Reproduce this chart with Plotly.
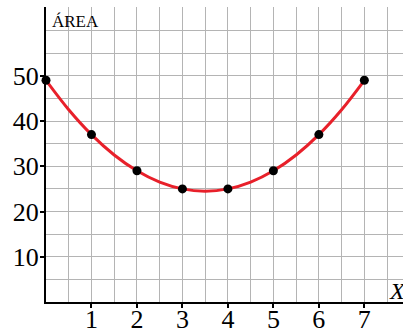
import plotly.graph_objects as go

# Pontos marcados (x inteiro -> área)
x_pontos = [0, 1, 2, 3, 4, 5, 6, 7]
area_pontos = [49, 37, 29, 25, 25, 29, 37, 49]

# Curva vermelha (a cada meia unidade)
x_curva = [0, 0.5, 1, 1.5, 2, 2.5, 3, 3.5, 4, 4.5, 5, 5.5, 6, 6.5, 7]
area_curva = [49, 42.5, 37, 32.5, 29, 26.5, 25, 24.5, 25, 26.5, 29, 32.5, 37, 42.5, 49]

x_ticks = [1, 2, 3, 4, 5, 6, 7]
y_ticks = [10, 20, 30, 40, 50]

SERIF = 'Liberation Serif'
GRID = '#b4b4b4'

fig = go.Figure()

fig.add_trace(go.Scatter(
    x=x_curva, y=area_curva,
    mode='lines',
    line=dict(color='#e8202a', width=3, shape='spline'),
    hoverinfo='skip'
))

fig.add_trace(go.Scatter(
    x=x_pontos, y=area_pontos,
    mode='markers',
    marker=dict(color='black', size=9),
    cliponaxis=False
))

fig.update_layout(
    width=403, height=330,
    margin=dict(l=46, r=0, t=7, b=28, autoexpand=False),
    plot_bgcolor='white',
    paper_bgcolor='white',
    showlegend=False,
    font=dict(family=SERIF, size=26, color='black'),
    xaxis=dict(
        range=[0, 7.85],
        tickvals=x_ticks,
        tickfont=dict(family=SERIF, size=26),
        ticks='outside', ticklen=4, tickwidth=2, tickcolor='black',
        ticklabelstandoff=-11,
        showgrid=True, gridcolor=GRID, gridwidth=1,
        minor=dict(tick0=0, dtick=0.5, showgrid=True, gridcolor=GRID, gridwidth=1),
        showline=True, linecolor='black', linewidth=2,
        zeroline=False, automargin=False,
        fixedrange=True
    ),
    yaxis=dict(
        range=[0, 65.2],
        tickvals=y_ticks,
        tickfont=dict(family=SERIF, size=26),
        ticks='outside', ticklen=4, tickwidth=2, tickcolor='black',
        ticklabelstandoff=-4,
        showgrid=True, gridcolor=GRID, gridwidth=1,
        minor=dict(tick0=0, dtick=5, showgrid=True, gridcolor=GRID, gridwidth=1),
        showline=True, linecolor='black', linewidth=2,
        zeroline=False, automargin=False,
        fixedrange=True
    ),
    annotations=[
        dict(text='ÁREA', xref='paper', yref='paper', x=0.01, y=0.99,
             xanchor='left', yanchor='top', showarrow=False,
             font=dict(family=SERIF, size=17, color='black')),
        dict(text='<i>X</i>', xref='x', yref='y', x=7.5, y=2.5,
             xanchor='left', yanchor='middle', showarrow=False,
             font=dict(family=SERIF, size=24, color='black'))
    ]
)

# tira a margem padrão do body para a figura ocupar a janela toda
fig.write_html(
    "out.html",
    config={'displayModeBar': False},
    post_script="document.body.style.margin='0';document.body.style.overflow='hidden';"
)
